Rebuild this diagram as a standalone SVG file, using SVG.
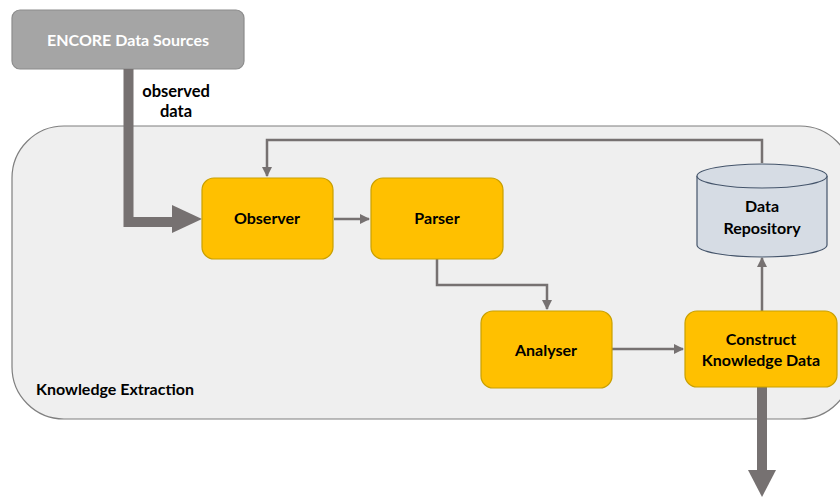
<svg xmlns="http://www.w3.org/2000/svg" width="840" height="497" viewBox="0 0 840 497">
  <style>
    .lbl { font-family: Lato, "Liberation Sans", sans-serif; font-weight: bold; font-size: 16px; fill: #000; text-anchor: middle; }
    .proc { fill: #ffc000; stroke: #c9a000; stroke-width: 1.2; }
    .flow { fill: none; stroke: #767171; stroke-width: 2.5; }
  </style>
  <defs>
    <marker id="ah" viewBox="0 0 10 10" refX="9" refY="5" markerWidth="4" markerHeight="4" orient="auto" markerUnits="strokeWidth">
      <path d="M0,0 L10,5 L0,10 z" fill="#767171"/>
    </marker>
  </defs>

  <!-- container: Knowledge Extraction -->
  <g id="knowledge-extraction">
    <rect x="12" y="126" width="840" height="293" rx="52" ry="52" fill="#efefef" stroke="#7f7f7f" stroke-width="1.2"/>
    <text class="lbl" x="36" y="395" style="text-anchor:start">Knowledge Extraction</text>
  </g>

  <!-- source -->
  <g id="encore-sources">
    <rect x="12" y="10" width="232" height="59" rx="8" fill="#a5a5a5" stroke="#8c8c8c" stroke-width="1.2"/>
    <text class="lbl" x="128" y="46" style="fill:#fff">ENCORE Data Sources</text>
  </g>

  <!-- connectors -->
  <g id="connectors">
    <!-- observed data into Observer -->
    <path d="M128.5,69 V222 H176" fill="none" stroke="#767171" stroke-width="10"/>
    <path d="M172,205 L202,219 L172,233 z" fill="#767171"/>
    <!-- feedback from repository -->
    <path class="flow" d="M762,163 V140 H267 V176" marker-end="url(#ah)"/>
    <path class="flow" d="M334,219 H369" marker-end="url(#ah)"/>
    <path class="flow" d="M437,259 V285 H547 V309" marker-end="url(#ah)"/>
    <path class="flow" d="M612,349 H683" marker-end="url(#ah)"/>
    <path class="flow" d="M762,311 V258" marker-end="url(#ah)"/>
    <!-- knowledge data output -->
    <path d="M762,387 V472" fill="none" stroke="#767171" stroke-width="10"/>
    <path d="M748,470 L776,470 L762,497 z" fill="#767171"/>
    <text class="lbl" x="176" y="97" style="font-size:16.5px">observed</text>
    <text class="lbl" x="176" y="117" style="font-size:16.5px">data</text>
  </g>

  <g id="observer">
    <rect class="proc" x="202" y="178" width="131" height="81" rx="12"/>
    <text class="lbl" x="267" y="224">Observer</text>
  </g>
  <g id="parser">
    <rect class="proc" x="371" y="178" width="132" height="81" rx="12"/>
    <text class="lbl" x="437" y="224">Parser</text>
  </g>
  <g id="analyser">
    <rect class="proc" x="481" y="311" width="131" height="77" rx="12"/>
    <text class="lbl" x="546" y="356">Analyser</text>
  </g>
  <g id="construct">
    <rect class="proc" x="685" y="311" width="152" height="76" rx="12"/>
    <text class="lbl" x="761" y="345">Construct</text>
    <text class="lbl" x="761" y="366">Knowledge Data</text>
  </g>
  <g id="data-repository">
    <path d="M697,176 V245 A65,12 0 0 0 827,245 V176" fill="#d6dce4" stroke="#44546a" stroke-width="1.2"/>
    <ellipse cx="762" cy="176" rx="65" ry="12" fill="#d6dce4" stroke="#44546a" stroke-width="1.2"/>
    <text class="lbl" x="762" y="212">Data</text>
    <text class="lbl" x="762" y="234">Repository</text>
  </g>
</svg>
